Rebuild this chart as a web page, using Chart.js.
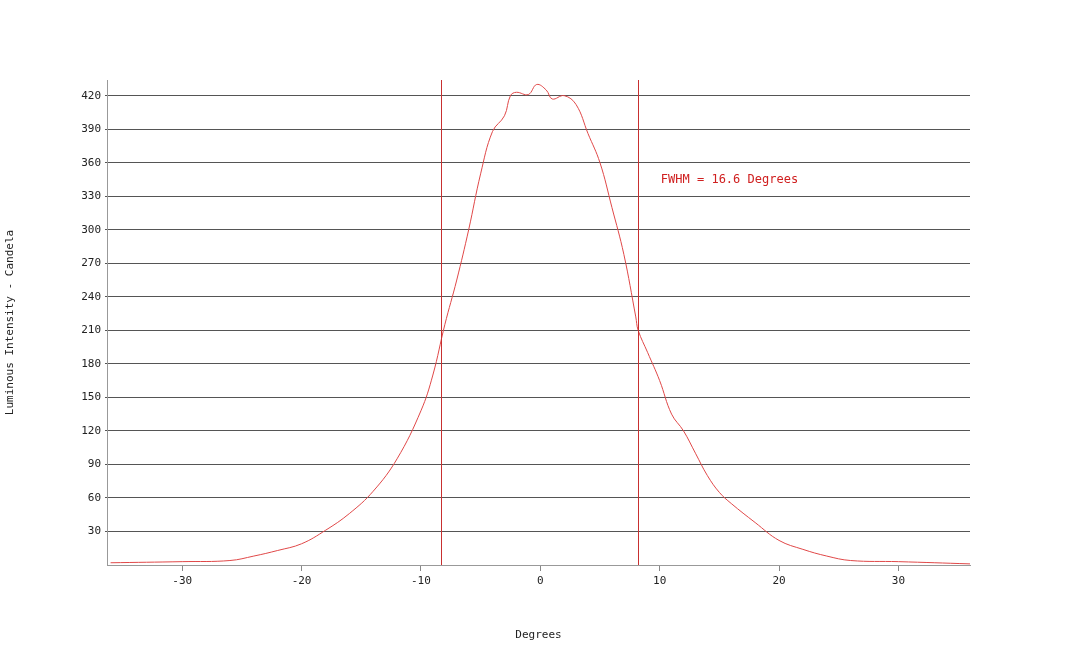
<!DOCTYPE html>
<html><head><meta charset="utf-8">
<script src="https://cdn.jsdelivr.net/npm/chart.js@4/dist/chart.umd.min.js"></script>
<style>html,body{margin:0;padding:0;background:#fff}#w{width:1080px;height:646px}</style>
</head><body><div id="w"><canvas id="c"></canvas></div>
<script>
const degrees = [-36,-30,-26,-24,-22,-20,-18,-16,-14,-12,-10,-9,-8,-7,-6,-5,-4,-3,-2.5,-2,-1,-0.3,0.5,1,2,3,4,5,6,7,8,8.2,9,10,11,12,13,14,15,16,18,20,22,24,26,30,36];
const intensity = [2,3,4,8,13,19,31,46,66,95,138,170,215,255,300,350,388,402,420,423,421,430,425,417,420,412,386,360,320,278,222,210,190,165,135,120,100,80,65,55,38,22,14,8,4,3,1];
const yTicks = [30,60,90,120,150,180,210,240,270,300,330,360,390,420];
const xTicks = [-30,-20,-10,0,10,20,30];
const fwhmLines = [-8.3, 8.2];
const fwhmLabel = 'FWHM = 16.6 Degrees';
const F = 'DejaVu Sans Mono';

const overlay = {id:'ov', afterDatasetsDraw(ch){
  const ctx = ch.ctx, a = ch.chartArea, x = ch.scales.x, y = ch.scales.y;
  ctx.save(); ctx.strokeStyle='#c83030'; ctx.lineWidth=1;
  fwhmLines.forEach(v=>{const px=Math.round(x.getPixelForValue(v))+0.5;ctx.beginPath();ctx.moveTo(px,a.top);ctx.lineTo(px,a.bottom);ctx.stroke();});
  ctx.fillStyle='#d02020'; ctx.font='12px '+F; ctx.textBaseline='middle';
  ctx.fillText(fwhmLabel, x.getPixelForValue(10.1), y.getPixelForValue(345));
  ctx.restore();}};

new Chart(document.getElementById('c'), {
  type:'line',
  data:{datasets:[{data:degrees.map((d,i)=>({x:d,y:intensity[i]})),borderColor:'#e04848',borderWidth:1,pointRadius:0,tension:0.4,fill:false}]},
  options:{responsive:true,maintainAspectRatio:false,animation:false,
    layout:{padding:{left:0,right:110,top:80,bottom:0}},
    plugins:{legend:{display:false},tooltip:{enabled:false}},
    scales:{
      x:{type:'linear',min:-36.3,max:36,
        afterBuildTicks:s=>{s.ticks=xTicks.map(v=>({value:v}));},
        afterFit:s=>{s.height=81;},
        grid:{drawOnChartArea:false,drawTicks:true,tickLength:6,color:'#888'},
        border:{color:'#999'},
        ticks:{color:'#222',font:{family:F,size:11},padding:4,maxRotation:0},
        title:{display:true,text:'Degrees',color:'#222',font:{family:F,size:11},padding:{top:6}}},
      y:{min:0,max:434,
        afterBuildTicks:s=>{s.ticks=yTicks.map(v=>({value:v}));},
        afterFit:s=>{s.width=107;},
        grid:{color:'#555',drawTicks:true,tickLength:2,lineWidth:1},
        border:{color:'#999'},
        ticks:{color:'#222',font:{family:F,size:11},padding:4},
        title:{display:true,text:'Luminous Intensity - Candela',color:'#222',font:{family:F,size:11},padding:{bottom:24}}}
    }},
  plugins:[overlay]
});
</script>
</body></html>
